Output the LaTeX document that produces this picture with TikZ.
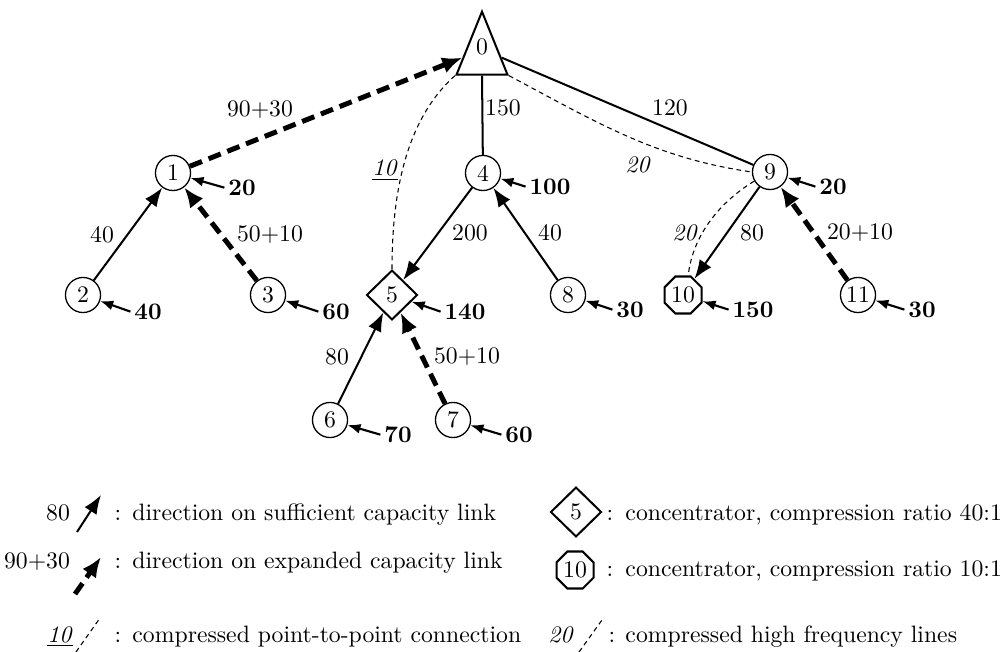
\documentclass[tikz,border=0pt]{standalone}
\usetikzlibrary{arrows.meta,shapes.geometric,calc}
\begin{document}
\begin{tikzpicture}[x=0.422pt,y=-0.422pt,
 cnode/.style={circle,draw,line width=0.55pt,minimum size=14.8pt,inner sep=0pt},
 dnode/.style={diamond,draw,line width=0.85pt,minimum width=21.5pt,minimum height=21pt,inner sep=0pt},
 onode/.style={regular polygon,regular polygon sides=8,draw,line width=0.85pt,minimum size=16.9pt,inner sep=0pt},
 tnode/.style={isosceles triangle,isosceles triangle stretches,shape border rotate=90,draw,line width=0.85pt,minimum width=21.5pt,minimum height=26.6pt,inner sep=0pt},
 load/.style={font=\bfseries,inner sep=1pt},
 lbl/.style={inner sep=0pt},
 loadarr/.style={line width=0.9pt,-{Latex[length=5.5pt,width=4.2pt]},shorten <=0.5pt},
 solidarr/.style={line width=0.85pt,-{Latex[length=8pt,width=6pt]}},
 solidline/.style={line width=0.85pt},
 thickdash/.style={line width=2.1pt,dash pattern=on 5.5pt off 3pt,-{Latex[length=8.5pt,width=7pt]}},
 thindash/.style={line width=0.45pt,dash pattern=on 2pt off 1.6pt},
]
\useasboundingbox (0,0) rectangle (1008,652);
% nodes
\node[tnode,anchor=apex] (n0) at (482,9) {};
\node[lbl] (n0t) at (482,47) {0};
\node[cnode] (n1) at (173,173) {1};
\node[cnode] (n2) at (83,295) {2};
\node[cnode] (n3) at (268,295) {3};
\node[cnode] (n4) at (483,173) {4};
\node[dnode] (n5) at (392,295) {5};
\node[cnode] (n6) at (330,420) {6};
\node[cnode] (n7) at (453,420) {7};
\node[cnode] (n8) at (568,295) {8};
\node[cnode] (n9) at (770,172) {9};
\node[onode] (n10) at (683,295) {10};
\node[cnode] (n11) at (858,295) {11};
% loads
\node[load] (l1) at (242,188) {20};
\node[load] (l2) at (148,312) {40};
\node[load] (l3) at (336,312) {60};
\node[load] (l4) at (550,187) {100};
\node[load] (l5) at (465,312) {140};
\node[load] (l6) at (398,435) {70};
\node[load] (l7) at (519,435) {60};
\node[load] (l8) at (630,310) {30};
\node[load] (l9) at (833,187) {20};
\node[load] (l10) at (753,310) {150};
\node[load] (l11) at (922,310) {30};
\foreach \i in {1,...,11} { \draw[loadarr] (l\i.west) -- (n\i); }
% edges
\draw[thickdash] (n1) -- ($(n0.apex)!0.73!(n0.left corner)$);
\draw[solidarr] (n2) -- (n1);
\draw[thickdash] (n3) -- (n1);
\draw[solidline] (n0.lower side) -- (n4);
\draw[solidline] ($(n0.apex)!0.73!(n0.right corner)$) -- (n9);
\draw[solidarr] (n4) -- (n5);
\draw[solidarr] (n8) -- (n4);
\draw[solidarr] (n6) -- (n5);
\draw[thickdash] (n7) -- (n5);
\draw[solidarr] (n9) -- (n10);
\draw[thickdash] (n11) -- (n9);
\draw[thindash] (n0.left corner) .. controls (405,120) and (392,195) .. (n5.north);
\draw[thindash] (n0.right corner) .. controls (598,123) and (655,158) .. (n9.west);
\draw[thindash] (n9.210) .. controls (715,205) and (692,240) .. (n10.75);
% edge labels
\node[lbl] (e10) at (260,110) {90+30};
\node[lbl] (e21) at (102,235) {40};
\node[lbl] (e31) at (270,235) {50+10};
\node[lbl] (e05) at (385,170) {\underline{\textit{10}}};
\node[lbl] (e04) at (503,108) {150};
\node[lbl] (e45) at (470,233) {200};
\node[lbl] (e84) at (550,233) {40};
\node[lbl] (e09) at (670,108) {120};
\node[lbl] (e09c) at (638,165) {\textit{20}};
\node[lbl] (e910c) at (685,233) {\textit{20}};
\node[lbl] (e910) at (752,233) {80};
\node[lbl] (e119) at (860,233) {20+10};
\node[lbl] (e65) at (337,357) {80};
\node[lbl] (e75) at (467,357) {50+10};
% legend left
\node[lbl,anchor=base] (k1n) at (58,520) {80};
\coordinate (k1a) at (77,532); \coordinate (k1b) at (101,495);
\draw[solidarr] (k1a) -- (k1b);
\node[lbl,anchor=base] (k1c) at (118,520) {:};
\node[lbl,anchor=base west] (k1t) at (132,520) {direction on sufficient capacity link};
\node[lbl,anchor=base] (k2n) at (37,568) {90+30};
\coordinate (k2a) at (75,594); \coordinate (k2b) at (101,557);
\draw[thickdash] (k2a) -- (k2b);
\node[lbl,anchor=base] (k2c) at (118,568) {:};
\node[lbl,anchor=base west] (k2t) at (132,568) {direction on expanded capacity link};
\node[lbl,anchor=base] (k3n) at (60,642) {\underline{\textit{10}}};
\coordinate (k3a) at (76,652); \coordinate (k3b) at (100,618);
\draw[thindash] (k3a) -- (k3b);
\node[lbl,anchor=base] (k3c) at (118,642) {:};
\node[lbl,anchor=base west] (k3t) at (132,642) {compressed point-to-point connection};
% legend right
\node[dnode] (k4s) at (576,512) {5};
\node[lbl,anchor=base] (k4c) at (610,520) {:};
\node[lbl,anchor=base west] (k4t) at (625,520) {concentrator, compression ratio 40:1};
\node[onode] (k5s) at (575,570) {10};
\node[lbl,anchor=base] (k5c) at (610,576) {:};
\node[lbl,anchor=base west] (k5t) at (625,576) {concentrator, compression ratio 10:1};
\node[lbl,anchor=base] (k6n) at (561,642) {\textit{20}};
\coordinate (k6a) at (579,652); \coordinate (k6b) at (602,620);
\draw[thindash] (k6a) -- (k6b);
\node[lbl,anchor=base] (k6c) at (612,642) {:};
\node[lbl,anchor=base west] (k6t) at (625,642) {compressed high frequency lines};
\end{tikzpicture}
\end{document}
